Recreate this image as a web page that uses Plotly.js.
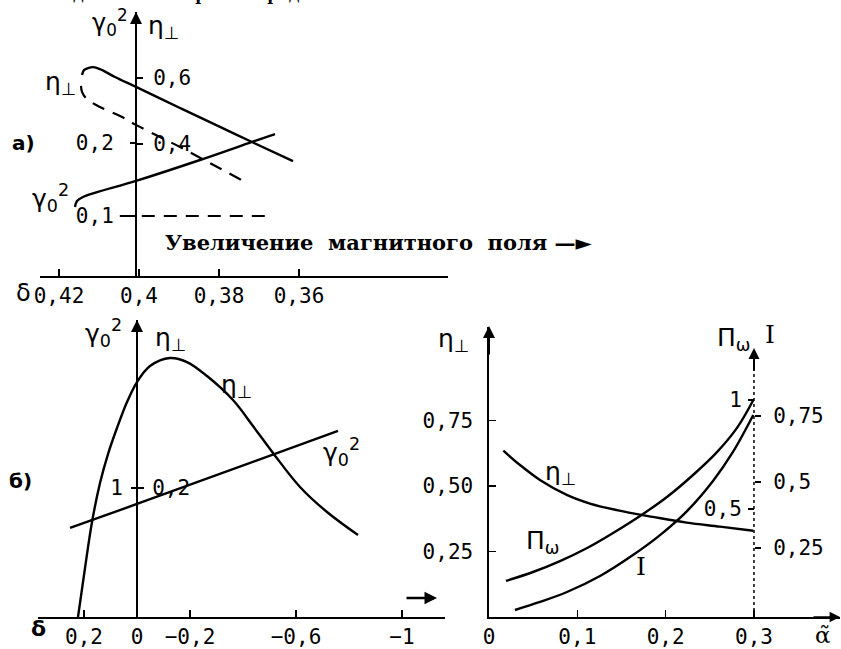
<!DOCTYPE html>
<html>
<head>
<meta charset="utf-8">
<script src="https://cdn.plot.ly/plotly-3.0.1.min.js"></script>
<style>html,body{margin:0;padding:0;background:#fff;}#chart{width:841px;height:649px;}</style>
</head>
<body>
<div id="chart"></div>
<script>
// ---------- Panel а): η⊥ and γ0² versus δ ----------
const aDeltaEta   = [0.41425, 0.41375, 0.41275, 0.4115, 0.40975, 0.406, 0.40075, 0.38975, 0.37975, 0.37175, 0.3615];
const aEta        = [0.609, 0.624, 0.630, 0.633, 0.627, 0.603, 0.573, 0.509, 0.452, 0.406, 0.348];
const aDeltaEtaDash = [0.4145, 0.41425, 0.41325, 0.40975, 0.40475, 0.40075, 0.39475, 0.38975, 0.38225, 0.373];
const aEtaDash      = [0.576, 0.558, 0.539, 0.512, 0.485, 0.458, 0.421, 0.391, 0.342, 0.282];
const aDeltaGamma = [0.416, 0.4155, 0.414, 0.40075, 0.38475, 0.37175, 0.366];
const aGamma      = [0.1123, 0.1205, 0.126, 0.148, 0.1767, 0.2014, 0.2123];
const aDeltaLevel = [0.4048, 0.368];
const aGammaLevel = [0.1, 0.1];
const aDeltaTicks = [0.42, 0.40, 0.38, 0.36];
const aDeltaTickText = ["0,42", "0,4", "0,38", "0,36"];
const aEtaTicks = [0.4, 0.6];
const aEtaTickText = ["0,4", "0,6"];
const aGammaTicks = [0.1, 0.2];
const aGammaTickText = ["0,1", "0,2"];

// ---------- Panel б): η⊥ and γ0² versus δ ----------
const bDeltaEta = [0.2226, 0.1962, 0.1698, 0.1396, 0.1094, 0.0755, 0.0377, 0, -0.0491, -0.1245, -0.1887, -0.2642, -0.3623, -0.4377, -0.5132, -0.6151, -0.717, -0.834];
const bEta      = [0, 0.076, 0.1473, 0.2078, 0.2527, 0.293, 0.3333, 0.3643, 0.3891, 0.4016, 0.3953, 0.3736, 0.3364, 0.2961, 0.2543, 0.2016, 0.1628, 0.1271];
const bDeltaGamma = [0.2528, 0, -0.7585];
const bGamma      = [0.690, 0.876, 1.442];
const bDeltaTicks = [0.2, 0, -0.2, -0.6, -1];
const bDeltaTickText = ["0,2", "0", "−0,2", "−0,6", "−1"];
const bEtaTicks = [0.2];
const bEtaTickText = ["0,2"];
const bGammaTicks = [1];
const bGammaTickText = ["1"];

// ---------- Right panel: η⊥, Πω, I versus α̃ ----------
const cAlphaEta = [0.0162, 0.0351, 0.0577, 0.088, 0.1143, 0.1446, 0.1857, 0.2238, 0.2615, 0.2992];
const cEta      = [0.635, 0.580, 0.523, 0.466, 0.433, 0.408, 0.382, 0.360, 0.345, 0.329];
const cAlphaPi  = [0.0192, 0.0498, 0.0804, 0.1111, 0.1405, 0.171, 0.2015, 0.231, 0.2581, 0.2808, 0.2993];
const cPi       = [0.170, 0.211, 0.261, 0.321, 0.390, 0.468, 0.555, 0.656, 0.761, 0.872, 1.0];
const cAlphaI   = [0.0294, 0.0577, 0.0883, 0.1257, 0.163, 0.1936, 0.2242, 0.2536, 0.2762, 0.2992];
const cI        = [0.0152, 0.0455, 0.0833, 0.144, 0.2235, 0.299, 0.390, 0.504, 0.614, 0.754];
const cAlphaTicks = [0, 0.1, 0.2, 0.3];
const cAlphaTickText = ["0", "0,1", "0,2", "0,3"];
const cEtaTicks = [0.25, 0.5, 0.75];
const cEtaTickText = ["0,25", "0,50", "0,75"];
const cPiTicks = [0.5, 1];
const cPiTickText = ["0,5", "1"];
const cITicks = [0.25, 0.5, 0.75];
const cITickText = ["0,25", "0,5", "0,75"];

// ---------- layout helpers ----------
const W = 841, H = 649;
const px = v => v / W;
const py = v => 1 - v / H;
const INK = "#000";
const NUM = "DejaVu Sans Mono";
const SYM = "DejaVu Sans";

const solid = {color: INK, width: 2.4, shape: "spline", smoothing: 1};
const dashed = {color: INK, width: 2.2, dash: "13px,9px", shape: "spline", smoothing: 1};

const traces = [
  {x: aDeltaEta, y: aEta, xaxis: "x", yaxis: "y", mode: "lines", line: solid},
  {x: aDeltaEtaDash, y: aEtaDash, xaxis: "x", yaxis: "y", mode: "lines", line: dashed},
  {x: aDeltaGamma, y: aGamma, xaxis: "x", yaxis: "y2", mode: "lines", line: solid},
  {x: aDeltaLevel, y: aGammaLevel, xaxis: "x", yaxis: "y2", mode: "lines", line: {color: INK, width: 2.2, dash: "13px,9px"}},
  {x: bDeltaEta, y: bEta, xaxis: "x2", yaxis: "y3", mode: "lines", line: solid},
  {x: bDeltaGamma, y: bGamma, xaxis: "x2", yaxis: "y4", mode: "lines", line: {color: INK, width: 2.4}},
  {x: cAlphaEta, y: cEta, xaxis: "x3", yaxis: "y5", mode: "lines", line: solid},
  {x: cAlphaPi, y: cPi, xaxis: "x3", yaxis: "y6", mode: "lines", line: solid},
  {x: cAlphaI, y: cI, xaxis: "x3", yaxis: "y7", mode: "lines", line: solid}
];

const baseAx = {showgrid: false, zeroline: false, fixedrange: true, color: INK, linecolor: INK, tickcolor: INK,
                tickfont: {family: NUM, size: 21, color: INK}, tickmode: "array"};

function ax(extra) { return Object.assign({}, baseAx, extra); }

function label(text, x, y, size, family, opts) {
  return Object.assign({text: text, x: px(x), y: py(y), xref: "paper", yref: "paper", showarrow: false,
    xanchor: "center", yanchor: "middle", font: {family: family || SYM, size: size || 22, color: INK}}, opts || {});
}
function arrow(xTip, yTip, xTail, yTail, w, size) {
  return {text: "", x: px(xTip), y: py(yTip), ax: px(xTail), ay: py(yTail), xref: "paper", yref: "paper",
    axref: "paper", ayref: "paper", showarrow: true, arrowhead: 2, arrowsize: size || 1.1, arrowwidth: w || 2, arrowcolor: INK};
}

const eta = "η<sub>⊥</sub>";
const gam = "γ<sub>0</sub><sup>2</sup>";

const layout = {
  width: W, height: H, margin: {l: 0, r: 0, t: 0, b: 0},
  paper_bgcolor: "#fff", plot_bgcolor: "rgba(0,0,0,0)", showlegend: false,
  font: {family: NUM, size: 21, color: INK},
  // panel а)
  xaxis: ax({domain: [px(40), px(448)], range: [0.42475, 0.32275], anchor: "y", showline: true, linewidth: 2,
             ticks: "inside", ticklen: 7, tickwidth: 2, tickvals: aDeltaTicks, ticktext: aDeltaTickText}),
  yaxis: ax({domain: [py(276), py(12)], range: [0, 0.8], anchor: "free", position: px(136), side: "right",
             showline: true, linewidth: 2, ticks: "outside", ticklen: 6, tickwidth: 2,
             tickvals: aEtaTicks, ticktext: aEtaTickText, ticklabelstandoff: 6}),
  yaxis2: ax({overlaying: "y", anchor: "free", position: px(136), side: "left", range: [0.01781, 0.37945],
              showline: false, ticks: "outside", ticklen: 6, tickwidth: 2,
              tickvals: aGammaTicks, ticktext: aGammaTickText, ticklabelstandoff: 12}),
  // panel б)
  xaxis2: ax({domain: [px(38), px(445)], range: [0.3736, -1.1623], anchor: "y3", showline: true, linewidth: 2,
              ticks: "inside", ticklen: 7, tickwidth: 2, tickvals: bDeltaTicks, ticktext: bDeltaTickText}),
  yaxis3: ax({domain: [py(617), py(320)], range: [0, 0.4605], anchor: "free", position: px(137), side: "right",
              showline: true, linewidth: 2, ticks: "outside", ticklen: 6, tickwidth: 2,
              tickvals: bEtaTicks, ticktext: bEtaTickText, ticklabelstandoff: 4}),
  yaxis4: ax({overlaying: "y3", anchor: "free", position: px(137), side: "left", range: [0, 2.3023],
              showline: false, ticks: "outside", ticklen: 6, tickwidth: 2,
              tickvals: bGammaTicks, ticktext: bGammaTickText, ticklabelstandoff: 4}),
  // right panel
  xaxis3: ax({domain: [px(489), px(840)], range: [0, 0.3974], anchor: "y5", showline: true, linewidth: 1.6,
              ticks: "inside", ticklen: 7, tickwidth: 1.6, tickvals: cAlphaTicks, ticktext: cAlphaTickText}),
  yaxis5: ax({domain: [py(617), py(327)], range: [0, 1.1069], anchor: "x3", side: "left", showline: true, linewidth: 1.6,
              ticks: "inside", ticklen: 7, tickwidth: 1.6, tickvals: cEtaTicks, ticktext: cEtaTickText,
              ticklabelstandoff: 10}),
  yaxis6: ax({overlaying: "y5", anchor: "free", position: px(754), side: "left", range: [0.00459, 1.3349],
              showline: false, ticks: "outside", ticklen: 6, tickwidth: 1.6,
              tickvals: cPiTicks, ticktext: cPiTickText, ticklabelstandoff: 2}),
  yaxis7: ax({overlaying: "y5", anchor: "free", position: px(754), side: "right", range: [-0.01136, 1.0871],
              showline: false, ticks: "outside", ticklen: 6, tickwidth: 1.6,
              tickvals: cITicks, ticktext: cITickText, ticklabelstandoff: 8}),
  shapes: [
    {type: "line", xref: "x3", yref: "y5 domain", x0: 0.3, x1: 0.3, y0: 0, y1: 0.89,
     line: {color: INK, width: 1.5, dash: "dot"}}
  ],
  annotations: [
    // cut-off text line at the top of the page
    label("<b>ется в довольно широких пределах.</b>", 7, -6, 16, "DejaVu Serif", {xanchor: "left"}),
    // panel а)
    label("<b>а)</b>", 23, 143, 20, SYM),
    label(eta, 60, 83, 25),
    label(gam, 50, 198, 25),
    label(gam, 110, 22, 24),
    label(eta, 163, 27, 25),
    label("δ", 23, 293, 24),
    label("<b>Увеличение  магнитного  поля —►</b>", 163, 242, 21, "DejaVu Serif", {xanchor: "left"}),
    arrow(136, 12, 136, 40, 2, 1.2),
    // panel б)
    label("<b>б)</b>", 20, 481, 20, SYM),
    label(gam, 103, 333, 25),
    label(eta, 170, 339, 25),
    label(eta, 237, 386, 25),
    label(gam, 341, 452, 25),
    label("<b>δ</b>", 38, 628, 22),
    arrow(137, 320, 137, 346, 2, 1.2),
    arrow(437, 598, 405, 598, 2.5, 1),
    // right panel
    label(eta, 453, 340, 25),
    label("Π<sub>ω</sub>", 733, 339, 25),
    label("I", 770, 334, 25, "DejaVu Serif"),
    label(eta, 560, 473, 25),
    label("Π<sub>ω</sub>", 542, 542, 25),
    label("I", 641, 566, 25, "DejaVu Serif"),
    label("α̃", 823, 635, 23, "DejaVu Serif"),
    arrow(489, 326, 489, 356, 2, 1.2),
    arrow(754, 348, 754, 372, 2, 1.1),
    arrow(841, 617, 812, 617, 1.6, 1.3)
  ]
};

Plotly.newPlot("chart", traces, layout, {staticPlot: true, displayModeBar: false});
</script>
</body>
</html>
